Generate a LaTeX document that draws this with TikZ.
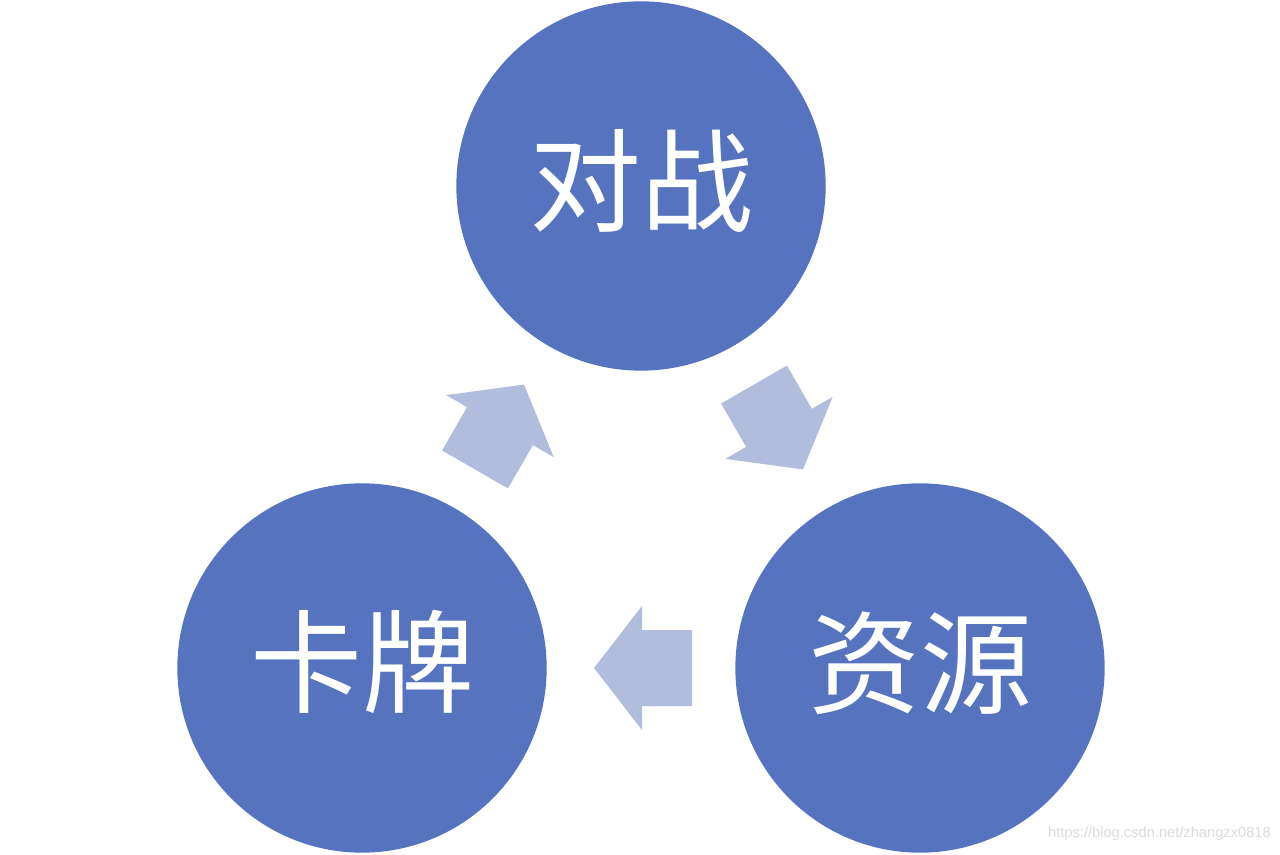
\documentclass[tikz,border=0pt]{standalone}
\usepackage{fontspec}
\setmainfont{Liberation Sans}
\newfontfamily\cjk{Noto Sans CJK SC}
\usetikzlibrary{calc}
\definecolor{circblue}{HTML}{5673C0}
\definecolor{arrblue}{HTML}{B2BCDD}
\definecolor{wmgray}{HTML}{DCDCDC}
\tikzset{
  circ/.style={circle, fill=circblue, draw=none, minimum size=277pt, inner sep=0pt,
    text=white, font=\cjk\fontsize{84}{84}\selectfont},
  blockarrow/.style={fill=arrblue, draw=none},
}
\newcommand{\blockarrowpath}{(-49,-38) -- (1,-38) -- (1,-62) -- (49,0) -- (1,62) -- (1,38) -- (-49,38) -- cycle}
\begin{document}
\begin{tikzpicture}[x=0.75pt,y=0.75pt]
\useasboundingbox[fill=white] (0,0) rectangle (1280,854);
\node[circ] (top) at (641,668) {\raisebox{14pt}{对战}};
\node[circ] (bl) at (362,186) {\raisebox{16pt}{卡牌}};
\node[circ] (br) at (920,186) {\raisebox{14pt}{资源}};
\coordinate (m1) at ($(bl)!0.5!(top)$);
\coordinate (m2) at ($(top)!0.5!(br)$);
\coordinate (m3) at ($(br)!0.5!(bl)$);
\begin{scope}[shift={(m1)}, shift={(-2,0)}, rotate=60]
  \fill[blockarrow] \blockarrowpath;
\end{scope}
\begin{scope}[shift={(m2)}, shift={(-2,0)}, rotate=-60]
  \fill[blockarrow] \blockarrowpath;
\end{scope}
\begin{scope}[shift={(m3)}, shift={(2,0)}, rotate=180]
  \fill[blockarrow] \blockarrowpath;
\end{scope}
\node[anchor=east, text=wmgray, font=\fontsize{11}{13}\selectfont, inner sep=0pt] (wm) at (1271,20) {https://blog.csdn.net/zhangzx0818};
\end{tikzpicture}
\end{document}
